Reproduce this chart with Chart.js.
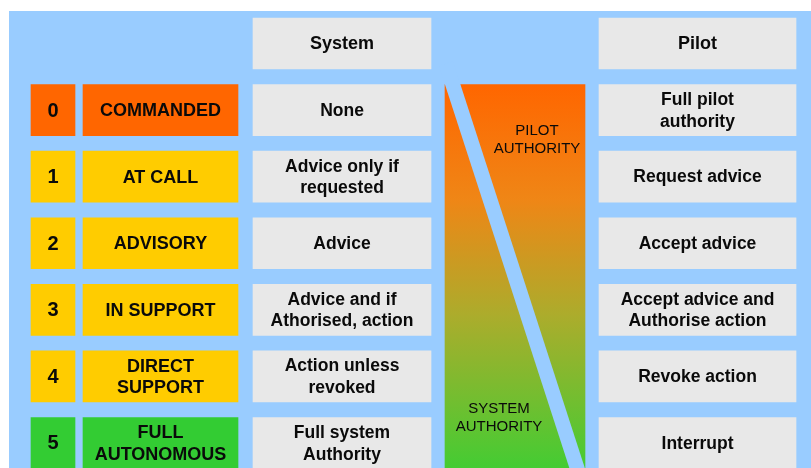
<!DOCTYPE html>
<html>
<head>
<meta charset="utf-8">
<script src="https://cdn.jsdelivr.net/npm/chart.js@4.4.1/dist/chart.umd.min.js"></script>
<style>
  html, body { margin: 0; padding: 0; background: #ffffff; }
  #levels { display: block; }
</style>
</head>
<body>
<canvas id="levels" width="811" height="468"></canvas>
<script>
// Levels of automation: what the system does vs. what the pilot does
const levelIds = ['0', '1', '2', '3', '4', '5'];
const levelNames = ['COMMANDED', 'AT CALL', 'ADVISORY', 'IN SUPPORT', 'DIRECT\nSUPPORT', 'FULL\nAUTONOMOUS'];
const systemRoles = ['None', 'Advice only if\nrequested', 'Advice', 'Advice and if\nAthorised, action', 'Action unless\nrevoked', 'Full system\nAuthority'];
const pilotRoles = ['Full pilot\nauthority', 'Request advice', 'Accept advice', 'Accept advice and\nAuthorise action', 'Revoke action', 'Interrupt'];
const columnHeaders = ['System', 'Pilot'];
const authorityLabels = ['PILOT\nAUTHORITY', 'SYSTEM\nAUTHORITY'];

// layout (x in px across the blue panel, y in row units; header row = -1)
const cols = {
    num: [31, 75],
    name: [83, 238],
    system: [253, 431],
    authority: [445, 585],
    pilot: [599, 796]
};
const yMin = -1.488, yMax = 5.376;
const panelTop = 11, panelLeft = 9;
const rowPitch = (468 - panelTop) / (yMax - yMin);
const cellH = 51;
const stripeW = 15.5;
const authLabelPos = [[537, 0.445], [499, 4.63]];

const levelColors = ['#ff6600', '#ffcc00', '#ffcc00', '#ffcc00', '#ffcc00', '#33cc33'];
const grey = '#e8e8e8';
const blue = '#99ccff';

const rowY = levelIds.map((_, i) => i);

// diagonal stripe: corner to corner of the authority block, extended past both ends
const blockTop = -cellH / 2 / rowPitch;
const blockBottom = 5 + cellH / 2 / rowPitch;
const sx0 = cols.authority[0] + stripeW / 2, sx1 = cols.authority[1] - stripeW / 2;
const slope = (sx1 - sx0) / (blockBottom - blockTop);
const stripePts = [-0.7, 5.6].map(v => ({ x: sx0 + slope * (v - blockTop), y: v }));

const panelBg = {
    id: 'panelBg',
    beforeDraw(chart) {
        const { ctx, chartArea: a } = chart;
        ctx.save();
        ctx.fillStyle = blue;
        ctx.fillRect(a.left, a.top, a.right - a.left, a.bottom - a.top);
        ctx.restore();
    }
};

function drawLines(ctx, text, cx, cy, lh) {
    const lines = text.split('\n');
    lines.forEach((ln, k) => {
        ctx.fillText(ln, cx, cy + (k - (lines.length - 1) / 2) * lh);
    });
}

const cellText = {
    id: 'cellText',
    afterDatasetsDraw(chart) {
        const { ctx } = chart;
        ctx.save();
        ctx.textAlign = 'center';
        ctx.textBaseline = 'middle';
        ctx.fillStyle = '#0a0a0a';
        chart.data.datasets.forEach((ds, di) => {
            if (!ds.texts) return;
            ctx.font = ds.font;
            chart.getDatasetMeta(di).data.forEach((el, i) => {
                const cx = (el.x + el.base) / 2;
                drawLines(ctx, ds.texts[i], cx, el.y + 1, 21.5);
            });
        });
        ctx.font = '15px "Liberation Sans", Arial, sans-serif';
        authorityLabels.forEach((t, i) => {
            const px = chart.scales.x.getPixelForValue(authLabelPos[i][0]);
            const py = chart.scales.y.getPixelForValue(authLabelPos[i][1]);
            drawLines(ctx, t, px, py, 18);
        });
        ctx.restore();
    }
};

const boldFont = 'bold 18px "Liberation Sans", Arial, sans-serif';
const roleFont = 'bold 17.5px "Liberation Sans", Arial, sans-serif';

new Chart(document.getElementById('levels').getContext('2d'), {
    type: 'bar',
    data: {
        datasets: [
            {
                label: 'headers',
                data: [{ x: cols.system, y: -1 }, { x: cols.pilot, y: -1 }],
                backgroundColor: grey,
                texts: columnHeaders, font: boldFont, order: 2
            },
            {
                label: 'level',
                data: rowY.map(y => ({ x: cols.num, y })),
                backgroundColor: levelColors,
                texts: levelIds, font: 'bold 20px "Liberation Sans", Arial, sans-serif', order: 2
            },
            {
                label: 'name',
                data: rowY.map(y => ({ x: cols.name, y })),
                backgroundColor: levelColors,
                texts: levelNames, font: boldFont, order: 2
            },
            {
                label: 'system',
                data: rowY.map(y => ({ x: cols.system, y })),
                backgroundColor: grey,
                texts: systemRoles, font: roleFont, order: 2
            },
            {
                label: 'pilot',
                data: rowY.map(y => ({ x: cols.pilot, y })),
                backgroundColor: grey,
                texts: pilotRoles, font: roleFont, order: 2
            },
            {
                label: 'authority',
                data: [{ x: cols.authority, y: 2.5 }],
                barThickness: 5 * rowPitch + cellH,
                order: 2,
                backgroundColor(c) {
                    const { chart } = c;
                    if (!chart.chartArea) return '#ff6600';
                    const y = chart.scales.y;
                    const g = chart.ctx.createLinearGradient(0, y.getPixelForValue(blockTop), 0, y.getPixelForValue(blockBottom));
                    g.addColorStop(0, '#ff6600');
                    g.addColorStop(0.3, '#ef8616');
                    g.addColorStop(0.6, '#acac2c');
                    g.addColorStop(1, '#44cc33');
                    return g;
                }
            },
            {
                type: 'line',
                label: 'stripe',
                data: stripePts,
                borderColor: blue,
                borderWidth: stripeW * Math.cos(Math.atan(slope / rowPitch)),
                borderCapStyle: 'butt',
                pointRadius: 0,
                fill: false,
                tension: 0,
                order: 1
            }
        ]
    },
    options: {
        indexAxis: 'y',
        responsive: false,
        animation: false,
        layout: { padding: { left: panelLeft, top: panelTop, right: 0, bottom: 0 } },
        datasets: { bar: { grouped: false, barThickness: cellH, borderWidth: 0 } },
        scales: {
            x: { type: 'linear', display: false, min: panelLeft, max: 811 },
            y: { type: 'linear', display: false, reverse: true, offset: false, min: yMin, max: yMax }
        },
        plugins: { legend: { display: false }, tooltip: { enabled: false } }
    },
    plugins: [panelBg, cellText]
});
</script>
</body>
</html>
